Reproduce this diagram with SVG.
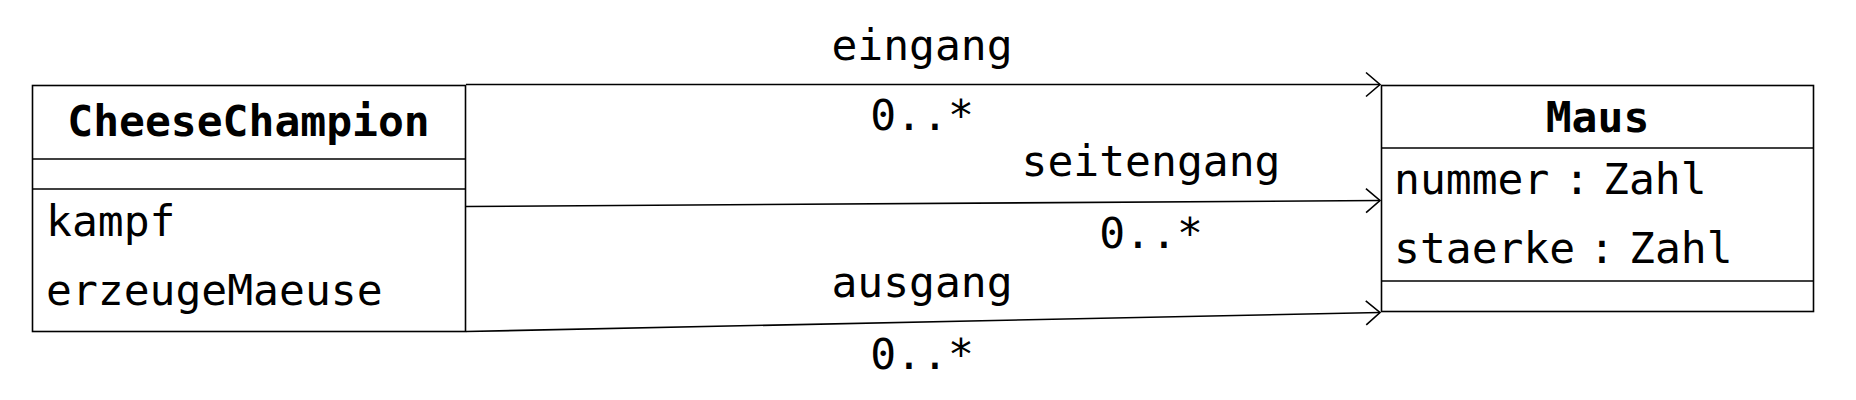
<svg xmlns="http://www.w3.org/2000/svg" width="1856" height="400" viewBox="0 0 1856 400">
<style>
.box{fill:#fff;stroke:#000;stroke-width:1.6}
.ln{stroke:#000;stroke-width:1.6;fill:none}
.t{font-family:"DejaVu Sans Mono","Liberation Mono",monospace;font-size:43px;fill:#000}
.b{font-weight:bold}
.m{text-anchor:middle}
</style>
<defs>
<marker id="open" markerUnits="userSpaceOnUse" markerWidth="40" markerHeight="40" refX="0" refY="0" viewBox="-20 -20 40 40" orient="auto" overflow="visible">
<path d="M-14,-12 L0,0 L-14,12" fill="none" stroke="#000" stroke-width="1.6"/>
</marker>
</defs>
<rect width="1856" height="400" fill="#fff"/>
<g id="CheeseChampion">
<rect class="box" x="32.5" y="85.5" width="433" height="246"/>
<line class="ln" x1="32.5" y1="159" x2="465.5" y2="159"/>
<line class="ln" x1="32.5" y1="189" x2="465.5" y2="189"/>
<text class="t b m" x="248.5" y="136">CheeseChampion</text>
<text class="t" x="46" y="236">kampf</text>
<text class="t" x="46" y="305">erzeugeMaeuse</text>
</g>
<g id="Maus">
<rect class="box" x="1381.5" y="85.5" width="432" height="226"/>
<line class="ln" x1="1381.5" y1="148" x2="1813.5" y2="148"/>
<line class="ln" x1="1381.5" y1="281" x2="1813.5" y2="281"/>
<text class="t b m" x="1597.5" y="132">Maus</text>
<text class="t" x="1394" y="194">nummer</text>
<text class="t" x="1564" y="194">:</text>
<text class="t" x="1603" y="194">Zahl</text>
<text class="t" x="1394" y="263">staerke</text>
<text class="t" x="1589" y="263">:</text>
<text class="t" x="1629" y="263">Zahl</text>
</g>
<g id="connectors">
<line class="ln" x1="466" y1="84.5" x2="1380" y2="84.5" marker-end="url(#open)"/>
<line class="ln" x1="466" y1="206.5" x2="1380" y2="200.5" marker-end="url(#open)"/>
<line class="ln" x1="466" y1="331.5" x2="1380" y2="312.5" marker-end="url(#open)"/>
<text class="t m" x="922" y="60">eingang</text>
<text class="t m" x="922" y="130">0..*</text>
<text class="t m" x="1151" y="176">seitengang</text>
<text class="t m" x="1151" y="248">0..*</text>
<text class="t m" x="922" y="297">ausgang</text>
<text class="t m" x="922" y="369">0..*</text>
</g>
</svg>
